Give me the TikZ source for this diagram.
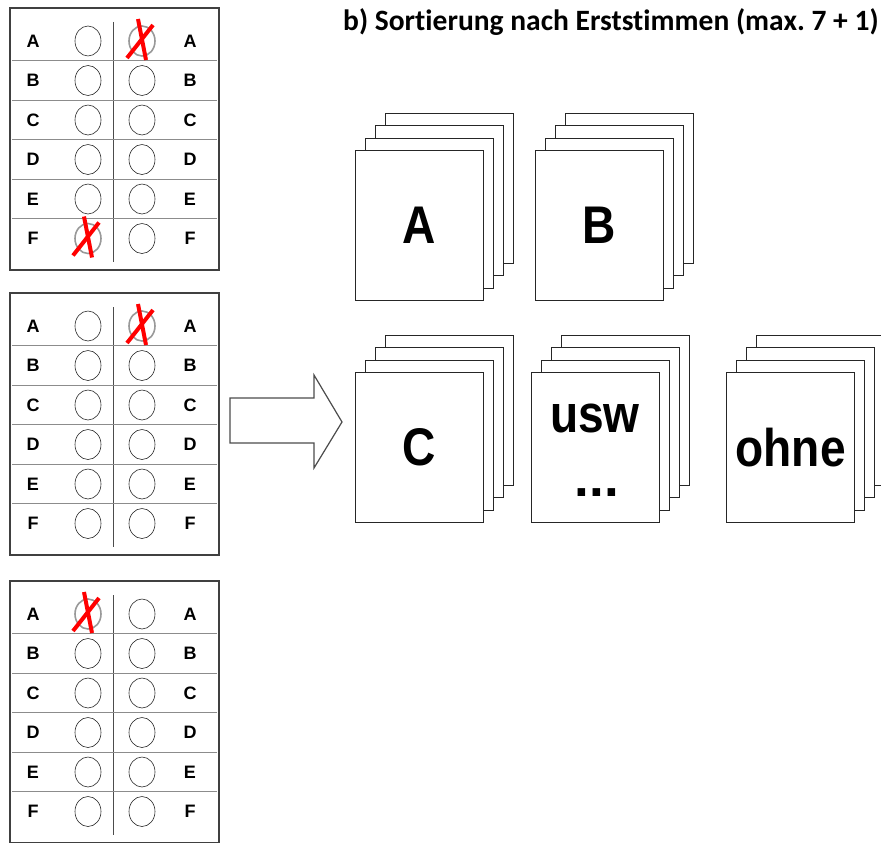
\documentclass[tikz,border=0pt]{standalone}
\usepackage{fontspec}
\setmainfont{Liberation Sans}
\newfontfamily\titlefont[Ligatures={NoCommon}]{Carlito}
\usepackage{graphicx}
\usetikzlibrary{shapes.geometric}
\frenchspacing
\tikzset{
  frame/.style={draw=black!75, line width=1.2pt},
  rowline/.style={draw=black!45, line width=0.9pt},
  divider/.style={draw=black!70, line width=0.9pt},
  lbl/.style={font=\bfseries\fontsize{18}{20}\selectfont, inner sep=0pt},
  circ/.style={ellipse, draw=black!85, line width=0.6pt, minimum width=26pt, minimum height=30pt, inner sep=0pt},
  markcirc/.style={ellipse, draw=black!40, line width=1.6pt, minimum width=26pt, minimum height=30pt, inner sep=0pt},
  cross/.style={draw=red, line width=4pt},
  card/.style={draw=black!85, fill=white, line width=1.1pt, minimum width=128pt, minimum height=150pt, anchor=north west, inner sep=0pt},
  cardtext/.style={font=\bfseries\fontsize{53}{60}\selectfont, inner sep=0pt},
  bigarrow/.style={draw=black!70, line width=1.2pt, fill=white},
}
\newcommand\ballot[2]{%
  \draw[frame] (10,#2) rectangle (219,#2+262);
  \draw[divider] (113,#2+14) -- (113,#2+254);
  \foreach \i in {1,...,5} {\draw[rowline] (12,#2+13+39.5*\i) -- (217,#2+13+39.5*\i);}
  \foreach \L [count=\i from 0] in {A,B,C,D,E,F} {
    \node[lbl] (#1l\L) at (33,#2+33+39.5*\i) {\L};
    \node[lbl] (#1r\L) at (190,#2+33+39.5*\i) {\L};
  }
}
\newcommand\markedcircle[2]{%
  \node[markcirc] (#1) at (#2) {};
  \draw[cross] ([shift={(-4,-22)}]#1.center) -- ([shift={(4,19)}]#1.center);
  \draw[cross] ([shift={(11,-16)}]#1.center) -- ([shift={(-15,17)}]#1.center);
}
\newcommand\ballotcircles[4]{% prefix, top, left marked row, right marked row
  \def\mkl{#3}\def\mkr{#4}%
  \foreach \L [count=\i from 0] in {A,B,C,D,E,F} {
    \edef\tmp{\L}%
    \ifx\tmp\mkl
      \markedcircle{#1cl\L}{88,#2+33+39.5*\i}
    \else
      \node[circ] (#1cl\L) at (88,#2+33+39.5*\i) {};
    \fi
    \ifx\tmp\mkr
      \markedcircle{#1cr\L}{142,#2+33+39.5*\i}
    \else
      \node[circ] (#1cr\L) at (142,#2+33+39.5*\i) {};
    \fi
  }
}
\newcommand\stack[5]{% name, x, y, text, scale
  \foreach \k in {3,2,1} {
    \node[card] (#1\k) at (#2+10*\k,#3-12.5*\k) {};
  }
  \node[card] (#1) at (#2,#3) {};
  \node[cardtext] (#1t) at (#1.center) {\scalebox{#5}[1]{#4}};
}
\begin{document}
\begin{tikzpicture}[x=1pt,y=-1pt]
\useasboundingbox (0,0) rectangle (881,843);
\clip (0,0) rectangle (881,843);
% ballots
\ballot{b1}{8}
\ballotcircles{b1}{8}{F}{A}
\ballot{b2}{293}
\ballotcircles{b2}{293}{X}{A}
\ballot{b3}{581}
\ballotcircles{b3}{581}{A}{X}
% arrow
\draw[bigarrow] (230,398) -- (314,398) -- (314,375) -- (342,422) -- (314,468) -- (314,443) -- (230,443) -- cycle;
% title
\node[anchor=base west, inner sep=0pt, font=\titlefont\bfseries\fontsize{29.5}{34}\selectfont] (title) at (343,31) {b) Sortierung nach Erststimmen (max. 7 + 1)};
% stacks
\stack{sA}{355}{150}{A}{0.87}
\stack{sB}{535}{150}{B}{0.87}
\stack{sC}{355}{372}{C}{0.87}
\stack{sU}{531}{372}{}{0.87}
\node[cardtext] (usw) at (595,418) {\scalebox{0.87}[1]{usw}};
\node[cardtext, anchor=base] (dots) at (597,496) {...};
\stack{sO}{726}{372}{ohne}{0.87}
\end{tikzpicture}
\end{document}
